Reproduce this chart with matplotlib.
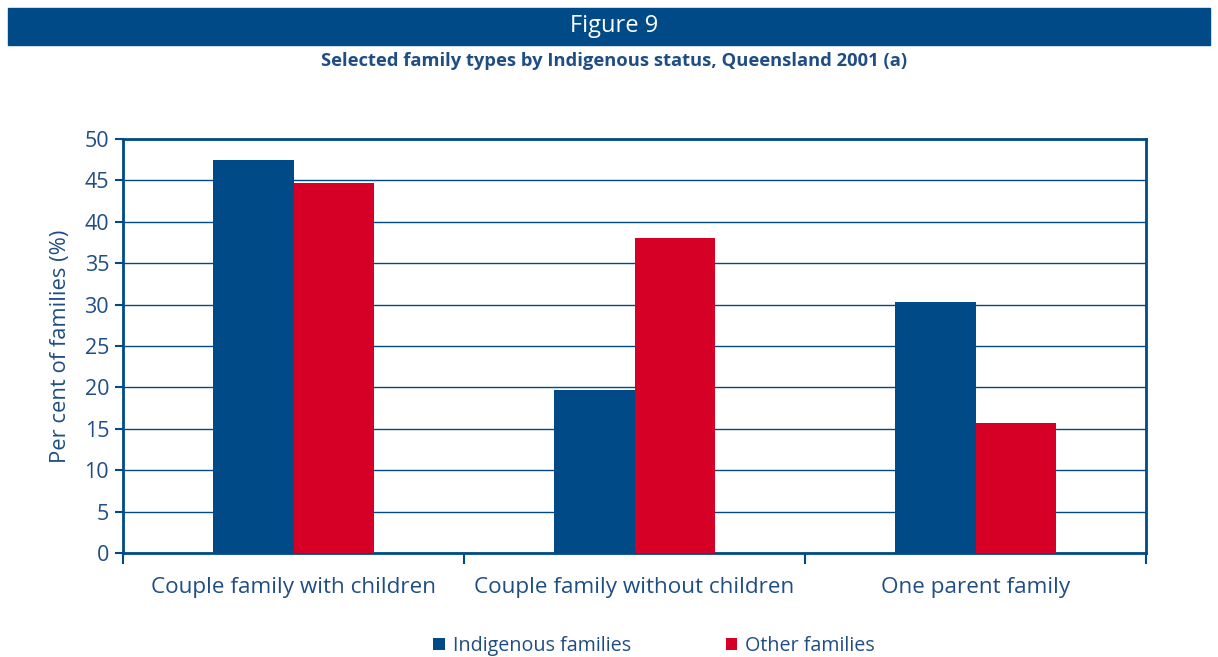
import numpy as np
import matplotlib.pyplot as plt
from matplotlib.patches import Rectangle

categories = ["Couple family with children", "Couple family without children", "One parent family"]
indigenous = [47.5, 19.7, 30.3]
other = [44.7, 38.0, 15.7]
yticks = [0, 5, 10, 15, 20, 25, 30, 35, 40, 45, 50]

blue = "#004b87"
red = "#d60027"
text_blue = "#1f4e85"

plt.rcParams['font.family'] = ['Open Sans', 'DejaVu Sans']

fig = plt.figure(figsize=(12.18, 6.57), dpi=100)

# title band
fig.patches.append(Rectangle((8/1218, 1 - 45/657), 1202/1218, 37/657,
                             transform=fig.transFigure, color=blue, zorder=0))
fig.text(0.504, 1 - 26/657, "Figure 9", color="white", fontsize=17,
         ha="center", va="center")
fig.text(0.504, 1 - 61/657, "Selected family types by Indigenous status, Queensland 2001 (a)",
         color=text_blue, fontsize=13.2, fontweight="bold", ha="center", va="center")

ax = fig.add_axes([123/1218, 1 - 553/657, 1023/1218, 414/657])
x = np.arange(len(categories))
w = 0.2375
ax.bar(x - w/2, indigenous, w, color=blue, label="Indigenous families", zorder=3)
ax.bar(x + w/2, other, w, color=red, label="Other families", zorder=3)

ax.set_xlim(-0.5, 2.5)
ax.set_ylim(0, 50)
ax.set_yticks(yticks)
ax.yaxis.grid(True, color=blue, linewidth=1.0, zorder=0)
ax.set_axisbelow(True)

ax.set_xticks(x)
ax.set_xticklabels(categories)
ax.set_xticks([-0.5, 0.5, 1.5, 2.5], minor=True)
ax.tick_params(axis="x", which="major", length=0, pad=17, labelsize=16.2, labelcolor=text_blue)
ax.tick_params(axis="x", which="minor", length=8, width=1.5, color=blue, direction="out")
ax.tick_params(axis="y", length=6, width=1.5, color=blue, labelsize=15.5, labelcolor=text_blue, pad=4)

for s in ax.spines.values():
    s.set_color(blue)
    s.set_linewidth(2)

ax.set_ylabel("Per cent of families (%)", fontsize=15.8, color=text_blue, labelpad=10)

fig.legend(loc="center", bbox_to_anchor=(0.537, 1 - 646/657), ncol=2, frameon=False,
           fontsize=14.2, labelcolor=text_blue, handlelength=0.6, handleheight=0.6,
           handletextpad=0.4, columnspacing=4.8)

fig.savefig("out.png", dpi=100)
